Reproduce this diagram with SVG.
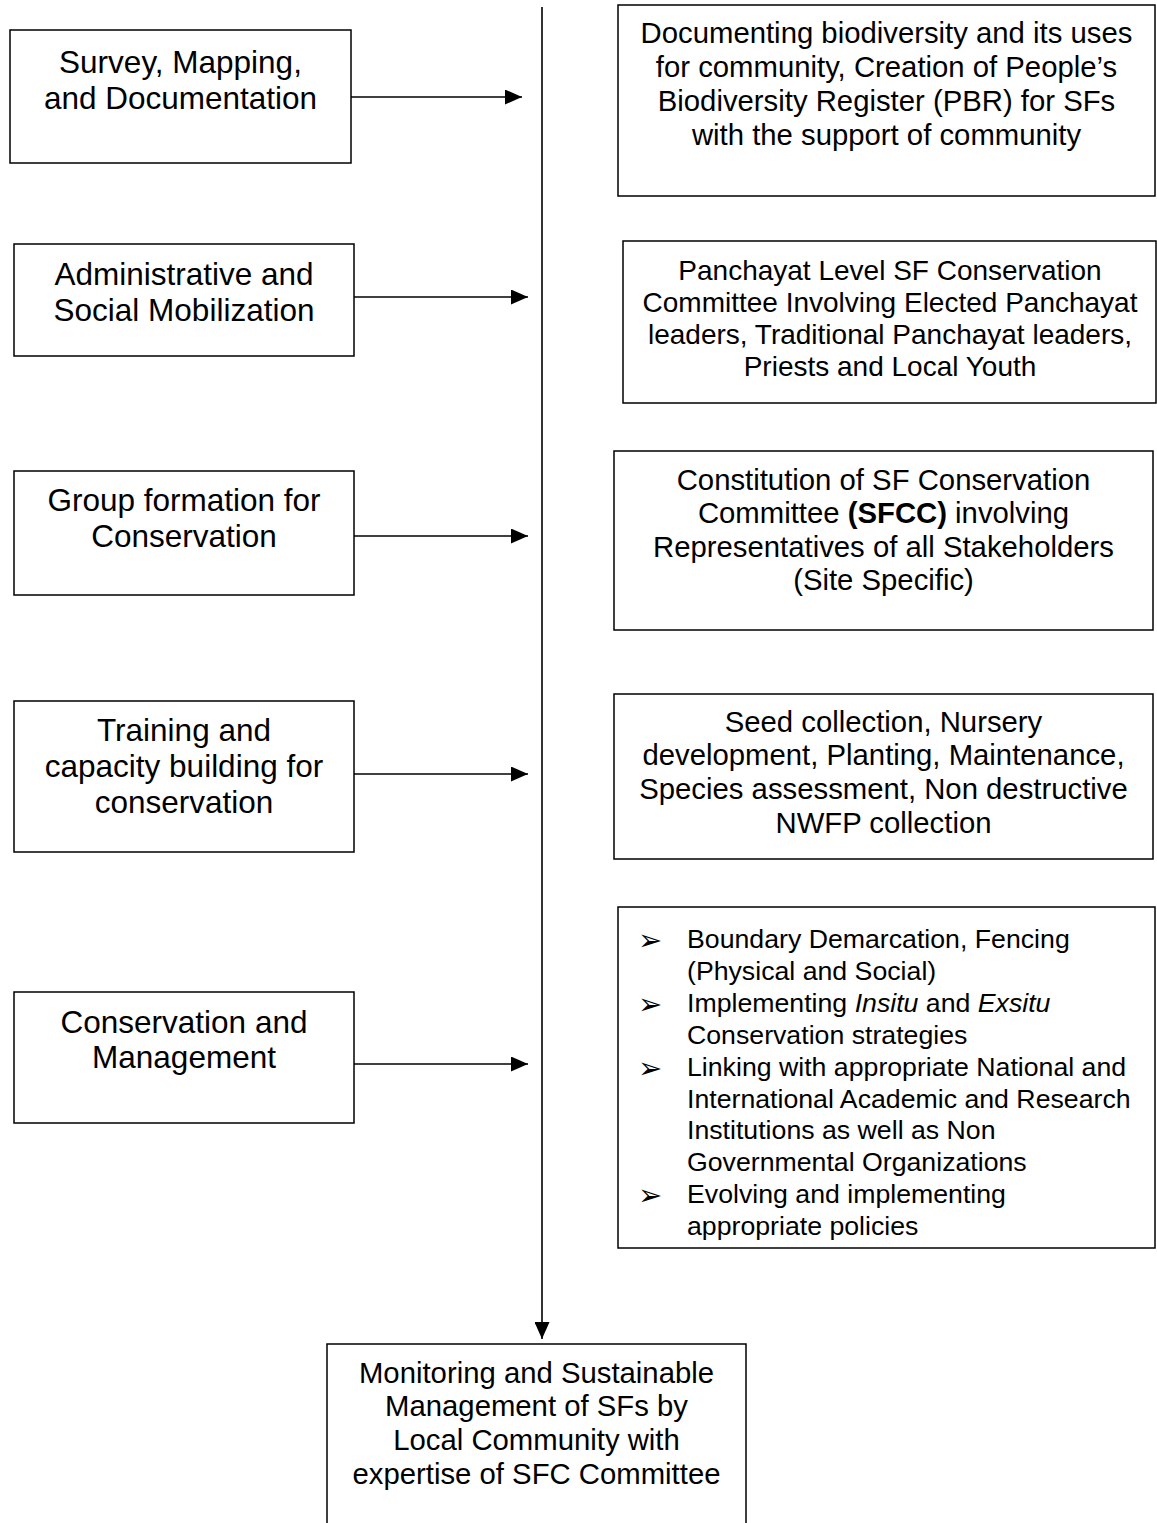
<svg xmlns="http://www.w3.org/2000/svg" width="1157" height="1523" viewBox="0 0 1157 1523">
<style>
rect.box{fill:#fff;stroke:#000;stroke-width:1.5}
text{font-family:"Liberation Sans",Arial,sans-serif;fill:#000;text-anchor:middle}
.l{font-size:31.5px}
.r{font-size:29.3px}
.r2{font-size:28px}
.b{font-size:26.7px;text-anchor:start}
.bul{font-family:"DejaVu Sans",sans-serif;font-size:29px;text-anchor:start}
.conn{stroke:#000;stroke-width:1.6;fill:none}
</style>
<defs>
<marker id="ah" markerWidth="17" markerHeight="15" refX="17" refY="7.5" orient="auto" markerUnits="userSpaceOnUse">
<path d="M0,0 L17,7.5 L0,15 Z" fill="#000"/>
</marker>
</defs>
<g id="connectors">
<line class="conn" x1="542" y1="7" x2="542" y2="1339" marker-end="url(#ah)"/>
<line class="conn" x1="351" y1="97" x2="522" y2="97" marker-end="url(#ah)"/>
<line class="conn" x1="354" y1="297" x2="528" y2="297" marker-end="url(#ah)"/>
<line class="conn" x1="354" y1="536" x2="528" y2="536" marker-end="url(#ah)"/>
<line class="conn" x1="354" y1="774" x2="528" y2="774" marker-end="url(#ah)"/>
<line class="conn" x1="354" y1="1064" x2="528" y2="1064" marker-end="url(#ah)"/>
</g>
<g id="survey">
<rect class="box" x="10" y="30" width="341" height="133"/>
<text class="l" x="180.5" y="73">Survey, Mapping,</text>
<text class="l" x="180.5" y="109">and Documentation</text>
</g>
<g id="admin">
<rect class="box" x="14" y="244" width="340" height="112"/>
<text class="l" x="184" y="285">Administrative and</text>
<text class="l" x="184" y="321">Social Mobilization</text>
</g>
<g id="group">
<rect class="box" x="14" y="471" width="340" height="124"/>
<text class="l" x="184" y="511">Group formation for</text>
<text class="l" x="184" y="547">Conservation</text>
</g>
<g id="training">
<rect class="box" x="14" y="701" width="340" height="151"/>
<text class="l" x="184" y="741">Training and</text>
<text class="l" x="184" y="777">capacity building for</text>
<text class="l" x="184" y="813">conservation</text>
</g>
<g id="conservation">
<rect class="box" x="14" y="992" width="340" height="131"/>
<text class="l" x="184" y="1033">Conservation and</text>
<text class="l" x="184" y="1068">Management</text>
</g>
<g id="documenting">
<rect class="box" x="618" y="5" width="537" height="191"/>
<text class="r" x="886.5" y="43">Documenting biodiversity and its uses</text>
<text class="r" x="886.5" y="77">for community, Creation of People’s</text>
<text class="r" x="886.5" y="111">Biodiversity Register (PBR) for SFs</text>
<text class="r" x="886.5" y="145">with the support of community</text>
</g>
<g id="panchayat">
<rect class="box" x="623" y="241" width="533" height="162"/>
<text class="r2" x="890" y="280">Panchayat Level SF Conservation</text>
<text class="r2" x="890" y="312">Committee Involving Elected Panchayat</text>
<text class="r2" x="890" y="344">leaders, Traditional Panchayat leaders,</text>
<text class="r2" x="890" y="376">Priests and Local Youth</text>
</g>
<g id="sfcc">
<rect class="box" x="614" y="451" width="539" height="179"/>
<text class="r" x="883.5" y="490">Constitution of SF Conservation</text>
<text class="r" x="883.5" y="523">Committee <tspan font-weight="bold">(SFCC)</tspan> involving</text>
<text class="r" x="883.5" y="557">Representatives of all Stakeholders</text>
<text class="r" x="883.5" y="590">(Site Specific)</text>
</g>
<g id="seed">
<rect class="box" x="614" y="694" width="539" height="165"/>
<text class="r" x="883.5" y="732">Seed collection, Nursery</text>
<text class="r" x="883.5" y="765">development, Planting, Maintenance,</text>
<text class="r" x="883.5" y="799">Species assessment, Non destructive</text>
<text class="r" x="883.5" y="833">NWFP collection</text>
</g>
<g id="strategies">
<rect class="box" x="618" y="907" width="537" height="341"/>
<text class="bul" x="638" y="950">➢</text>
<text class="b" x="687" y="948">Boundary Demarcation, Fencing</text>
<text class="b" x="687" y="980">(Physical and Social)</text>
<text class="bul" x="638" y="1014">➢</text>
<text class="b" x="687" y="1012">Implementing <tspan font-style="italic">Insitu</tspan> and <tspan font-style="italic">Exsitu</tspan></text>
<text class="b" x="687" y="1044">Conservation strategies</text>
<text class="bul" x="638" y="1078">➢</text>
<text class="b" x="687" y="1076">Linking with appropriate National and</text>
<text class="b" x="687" y="1108">International Academic and Research</text>
<text class="b" x="687" y="1139">Institutions as well as Non</text>
<text class="b" x="687" y="1171">Governmental Organizations</text>
<text class="bul" x="638" y="1205">➢</text>
<text class="b" x="687" y="1203">Evolving and implementing</text>
<text class="b" x="687" y="1235">appropriate policies</text>
</g>
<g id="monitoring">
<rect class="box" x="327" y="1344" width="419" height="200"/>
<text class="r" x="536.5" y="1383">Monitoring and Sustainable</text>
<text class="r" x="536.5" y="1416">Management of SFs by</text>
<text class="r" x="536.5" y="1450">Local Community with</text>
<text class="r" x="536.5" y="1484">expertise of SFC Committee</text>
</g>
</svg>
